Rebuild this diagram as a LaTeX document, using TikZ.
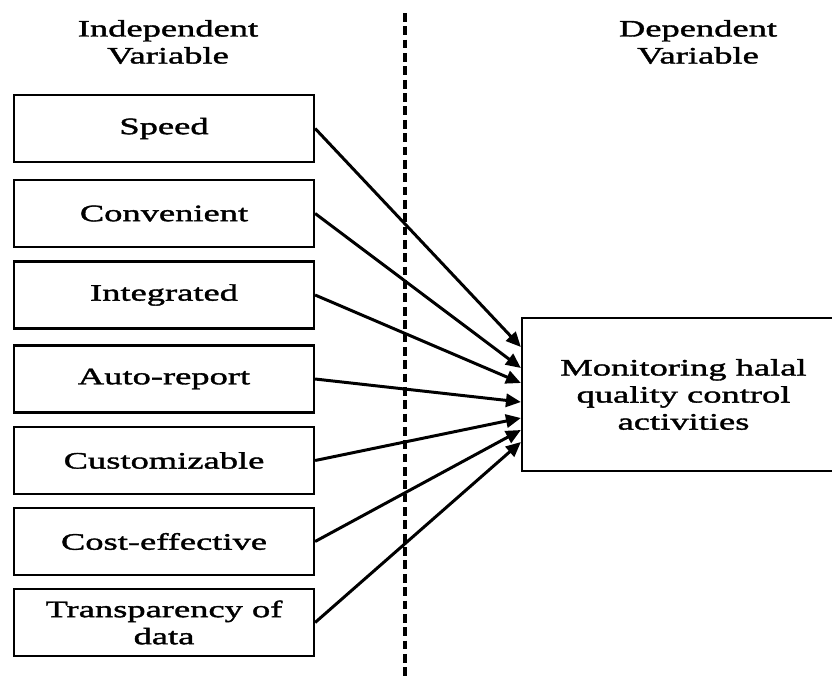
\documentclass[tikz,border=0pt]{standalone}
\usepackage{fontspec}
\setmainfont{Liberation Serif}[FakeStretch=1.55,FakeBold=1.6]
\usetikzlibrary{arrows.meta}

\begin{document}
\begin{tikzpicture}[x=0.02cm,y=-0.02cm]
 	\tikzstyle{every node}+=[font=\fontsize{13.4}{15.4}\selectfont, align=center]
 	\tikzstyle{varbox}=[draw, black, line width=1.3pt, minimum width=6cm, minimum height=1.34cm, inner sep=0pt]
 	\tikzstyle{link}=[black, line width=1.7pt, -{Triangle[length=8.5pt,width=7.5pt]}]
 	\clip (0,0) rectangle (832,677);
 	\draw [black, line width=2pt, dash pattern=on 5pt off 2.6pt] (405,13) -- (405,677);
 	\node (indep) at (168,42) {Independent\\Variable};
 	\node (dep) at (698,42) {Dependent\\Variable};
 	\node [varbox] (speed) at (164,128.5) {Speed};
 	\node [varbox] (conv) at (164,213.5) {Convenient};
 	\node [varbox] (integ) at (164,295) {Integrated};
 	\node [varbox] (auto) at (164,379) {Auto-report};
 	\node [varbox] (custom) at (164,460.5) {Customizable};
 	\node [varbox] (cost) at (164,541.5) {Cost-effective};
 	\node [varbox] (transp) at (164,622.5) {Transparency of\\data};
 	\node [varbox, minimum width=6.46cm, minimum height=3.06cm] (monitor) at (683.5,394.5) {Monitoring halal\\quality control\\activities};
 	\draw [link] (speed.east) -- (monitor.west |- 0,347);
 	\draw [link] (conv.east) -- (monitor.west |- 0,368);
 	\draw [link] (integ.east) -- (monitor.west |- 0,383);
 	\draw [link] (auto.east) -- (monitor.west |- 0,402);
 	\draw [link] (custom.east) -- (monitor.west |- 0,418);
 	\draw [link] (cost.east) -- (monitor.west |- 0,430);
 	\draw [link] (transp.east) -- (monitor.west |- 0,442);
\end{tikzpicture}
\end{document}
